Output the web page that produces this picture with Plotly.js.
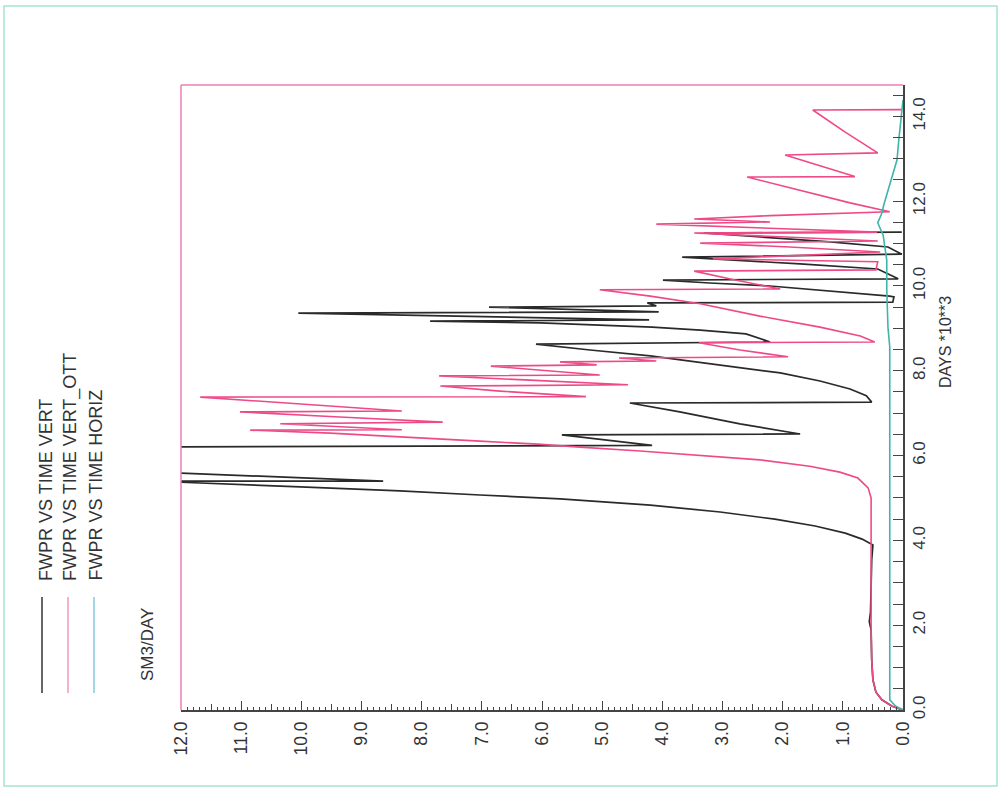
<!DOCTYPE html>
<html>
<head>
<meta charset="utf-8">
<script src="https://cdn.plot.ly/plotly-3.0.1.min.js"></script>
<style>html,body{margin:0;padding:0;background:#fff;}#chart{width:1001px;height:789px;}</style>
</head>
<body>
<div id="chart"></div>
<script>
// Days (x 1000) and FWPR (SM3/DAY)
var vertDays = [0,0.09,0.24,0.42,0.71,1.18,1.89,2.08,2.31,2.83,3.54,3.89,4.03,4.17,4.34,4.5,4.67,4.83,4.98,5.07,5.17,5.26,5.38,5.40,5.40,5.59,5.62,6.0,6.20,6.24,6.49,6.51,6.75,7.03,7.24,7.26,7.41,7.57,7.76,7.95,8.14,8.35,8.49,8.63,8.68,8.87,8.96,9.03,9.13,9.17,9.20,9.27,9.36,9.39,9.50,9.53,9.60,9.62,9.74,9.76,9.88,10.0,10.07,10.14,10.17,10.40,10.52,10.61,10.68,10.75,10.92,11.04,11.16,11.25,11.27];
var vertRate = [0,0.18,0.35,0.45,0.50,0.52,0.53,0.56,0.54,0.53,0.52,0.50,0.68,0.96,1.46,2.13,3.04,4.20,5.70,7.03,8.36,10.02,11.97,12.5,8.64,11.97,12.6,13.0,13.3,4.17,5.67,1.71,2.71,3.71,4.54,0.52,0.61,0.88,1.38,2.04,3.04,4.20,5.20,6.10,2.21,2.61,3.37,4.17,6.03,7.86,4.22,6.70,10.05,4.06,6.88,4.10,4.25,0.17,0.15,0.22,1.21,2.21,3.21,3.99,0.08,0.42,1.71,2.71,3.67,0.02,0.25,1.21,2.38,3.31,0.02];

var ottDays = [0,0.09,0.24,0.42,0.71,1.18,1.89,2.59,3.54,4.01,4.72,5.0,5.24,5.47,5.61,5.75,5.9,6.01,6.11,6.2,6.27,6.34,6.44,6.53,6.6,6.61,6.75,6.79,6.91,7.03,7.05,7.22,7.38,7.39,7.52,7.64,7.67,7.78,7.88,7.9,8.11,8.14,8.21,8.23,8.3,8.33,8.49,8.66,8.68,8.82,9.03,9.29,9.58,9.76,9.91,9.93,10.14,10.35,10.38,10.57,10.64,10.8,10.92,11.01,11.06,11.16,11.25,11.27,11.37,11.46,11.51,11.58,11.66,11.75,11.96,12.26,12.57,12.58,12.83,13.09,13.14,13.63,14.15,14.16];
var ottRate = [0,0.18,0.35,0.45,0.50,0.52,0.53,0.53,0.52,0.52,0.53,0.53,0.58,0.75,1.05,1.55,2.38,3.37,4.37,5.37,6.07,7.03,8.36,9.52,10.85,8.33,10.35,7.65,9.36,11.02,8.33,10.02,11.68,5.27,6.70,7.69,4.57,6.20,7.71,5.04,6.85,5.09,5.70,4.10,4.72,1.91,2.71,3.39,0.47,0.71,1.38,2.38,3.37,4.20,5.04,2.04,2.79,3.47,0.45,0.42,3.16,0.38,1.88,3.37,0.42,2.04,3.47,0.43,2.21,4.10,2.21,3.47,2.21,0.22,0.88,1.71,2.59,0.80,1.38,1.96,0.42,0.96,1.50,0.02];

var horizDays = [0,0.09,0.24,2.59,6.13,8.56,9.03,9.91,10.61,10.97,11.2,11.49,11.72,11.91,12.38,12.97,13.44,14.03,14.39];
var horizRate = [0,0.12,0.22,0.22,0.22,0.22,0.25,0.27,0.27,0.30,0.33,0.42,0.35,0.32,0.22,0.10,0.07,0.02,0.0];

var seriesNames = ["FWPR VS TIME VERT","FWPR VS TIME VERT_OTT","FWPR VS TIME HORIZ"];
var rateTitle = "SM3/DAY";
var dayTitle = "DAYS *10**3";

var FONT = "Liberation Sans, Arial, sans-serif";

var traces = [
  {x: vertRate, y: vertDays, mode: "lines", line: {color: "#2a2a2a", width: 1.7}, name: seriesNames[0], showlegend: false},
  {x: ottRate, y: ottDays, mode: "lines", line: {color: "#ee4a88", width: 1.6}, name: seriesNames[1], showlegend: false},
  {x: horizRate, y: horizDays, mode: "lines", line: {color: "#3fb5a8", width: 1.6}, name: seriesNames[2], showlegend: false},
  {x: [], y: [], xaxis: "x2", yaxis: "y", showlegend: false, hoverinfo: "skip"}
];

function px2paperX(px){ return (px - 181) / 722; }
function px2paperY(py){ return (710 - py) / 625; }

var legendX = [42, 68, 94];
var legendTextX = [46, 70, 95];
var legendColors = ["#333333", "#f096bd", "#86c9df"];

var shapes = [
  {type: "rect", xref: "paper", yref: "paper", x0: px2paperX(4), x1: px2paperX(997), y0: px2paperY(786), y1: px2paperY(6), line: {color: "#a6e4d2", width: 1.5}},
  {type: "line", xref: "paper", yref: "paper", x0: 0, x1: 0, y0: 0, y1: 1, line: {color: "#f07cb6", width: 1.5}},
  {type: "line", xref: "paper", yref: "paper", x0: 0, x1: 1, y0: 1, y1: 1, line: {color: "#f07cb6", width: 1.5}}
];
var annotations = [
  {text: rateTitle, xref: "paper", yref: "paper", x: px2paperX(147), y: px2paperY(645), xanchor: "center", yanchor: "middle", textangle: -90, showarrow: false, font: {family: FONT, size: 17, color: "#333"}},
  {text: dayTitle, xref: "paper", yref: "paper", x: px2paperX(945), y: px2paperY(342), xanchor: "center", yanchor: "middle", textangle: -90, showarrow: false, font: {family: FONT, size: 16, color: "#333"}}
];
for (var i = 0; i < 3; i++) {
  shapes.push({type: "line", xref: "paper", yref: "paper", x0: px2paperX(legendX[i]), x1: px2paperX(legendX[i]), y0: px2paperY(693), y1: px2paperY(597), line: {color: legendColors[i], width: 1.5}});
  annotations.push({text: seriesNames[i], xref: "paper", yref: "paper", x: px2paperX(legendTextX[i]), y: px2paperY(583), yanchor: "bottom", xanchor: "center", textangle: -90, showarrow: false, font: {family: FONT, size: 18, color: "#333"}});
}

var layout = {
  width: 1001, height: 789,
  margin: {l: 181, r: 98, t: 85, b: 79, pad: 0},
  paper_bgcolor: "#ffffff", plot_bgcolor: "#ffffff",
  showlegend: false,
  xaxis: {
    range: [12, 0], showgrid: false, zeroline: false, showline: true, linecolor: "#444", linewidth: 1.5,
    ticks: "inside", ticklen: 9, tickwidth: 1, tickcolor: "#444", tick0: 0, dtick: 1, tickformat: ".1f",
    tickangle: -90, ticklabelstandoff: 3, tickfont: {family: FONT, size: 17.5, color: "#333"},
    minor: {ticks: "inside", dtick: 0.1, tick0: 0, ticklen: 3, tickcolor: "#444", tickwidth: 1, showgrid: false}
  },
  xaxis2: {
    overlaying: "x", anchor: "y", side: "bottom", range: [12, 0], showgrid: false, zeroline: false, showline: false,
    ticks: "inside", ticklen: 6, tickwidth: 1, tickcolor: "#444", tick0: 0, dtick: 0.5, showticklabels: false
  },
  yaxis: {
    range: [0, 14.74], side: "right", showgrid: false, zeroline: false, showline: true, linecolor: "#444", linewidth: 1.5,
    ticks: "inside", ticklen: 10, tickwidth: 1, tickcolor: "#444", tick0: 0, dtick: 2, tickformat: ".1f",
    tickangle: -90, tickfont: {family: FONT, size: 17, color: "#333"},
    minor: {ticks: "inside", dtick: 0.5, tick0: 0, ticklen: 10, tickcolor: "#444", tickwidth: 1, showgrid: false}
  },
  shapes: shapes,
  annotations: annotations
};

Plotly.newPlot("chart", traces, layout, {displayModeBar: false, staticPlot: true});
</script>
</body>
</html>
